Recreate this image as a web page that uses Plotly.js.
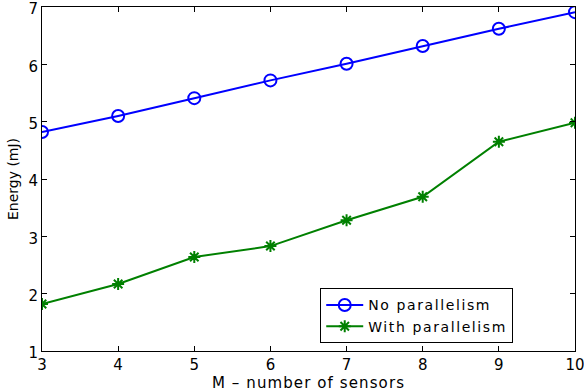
<!DOCTYPE html>
<html>
<head>
<meta charset="utf-8">
<script src="https://cdn.plot.ly/plotly-3.0.1.min.js"></script>
<style>
html,body{margin:0;padding:0;background:#fff;}
#chart{width:584px;height:392px;}
.legendtext{letter-spacing:1.6px;}
.xtitle{letter-spacing:1.1px;}
</style>
</head>
<body>
<div id="chart"></div>
<script>
const sensors = [3, 4, 5, 6, 7, 8, 9, 10];
const noParallelism = [4.82, 5.10, 5.41, 5.72, 6.01, 6.32, 6.62, 6.91];
const withParallelism = [1.82, 2.17, 2.64, 2.83, 3.28, 3.69, 4.65, 4.98];
const xTicks = [3, 4, 5, 6, 7, 8, 9, 10];
const yTicks = [1, 2, 3, 4, 5, 6, 7];

const font = 'DejaVu Sans, Liberation Sans, Arial, sans-serif';

const traces = [
  {
    x: sensors, y: noParallelism, name: 'No parallelism', type: 'scatter', mode: 'lines+markers',
    line: {color: '#0000ff', width: 2},
    marker: {symbol: 'circle-open', size: 12, color: '#0000ff', line: {width: 2, color: '#0000ff'}}
  },
  {
    x: sensors, y: withParallelism, name: 'With parallelism', type: 'scatter', mode: 'lines+markers',
    line: {color: '#008000', width: 2},
    marker: {symbol: 'asterisk-open', size: 10, color: '#008000', line: {width: 2, color: '#008000'}}
  }
];

const axisCommon = {
  showgrid: false, zeroline: false, showline: true, linecolor: '#000', linewidth: 1,
  mirror: 'ticks', ticks: 'inside', ticklen: 5, tickcolor: '#000',
  ticklabeloverflow: 'allow',
  tickfont: {family: font, size: 15, color: '#000'}
};

const layout = {
  width: 584, height: 392,
  margin: {l: 42, r: 9, t: 7, b: 41},
  paper_bgcolor: '#fff', plot_bgcolor: '#fff',
  showlegend: true,
  legend: {
    x: 0.522, y: 0.182, xanchor: 'left', yanchor: 'top',
    bordercolor: '#000', borderwidth: 1, bgcolor: '#fff',
    font: {family: font, size: 14, color: '#000'},
    tracegroupgap: 0, itemwidth: 37
  },
  xaxis: Object.assign({}, axisCommon, {
    range: [3, 10], tickvals: xTicks, ticktext: xTicks.map(String),
    title: {text: 'M \u2013 number of sensors', font: {family: font, size: 15, color: '#000'}, standoff: 0}
  }),
  yaxis: Object.assign({}, axisCommon, {
    range: [1, 7], tickvals: yTicks, ticktext: yTicks.map(String),
    ticklabelshift: 2,
    title: {text: 'Energy (mJ)', font: {family: font, size: 14, color: '#000'}, standoff: 6}
  })
};

Plotly.newPlot('chart', traces, layout, {displayModeBar: false, staticPlot: true});
</script>
</body>
</html>
